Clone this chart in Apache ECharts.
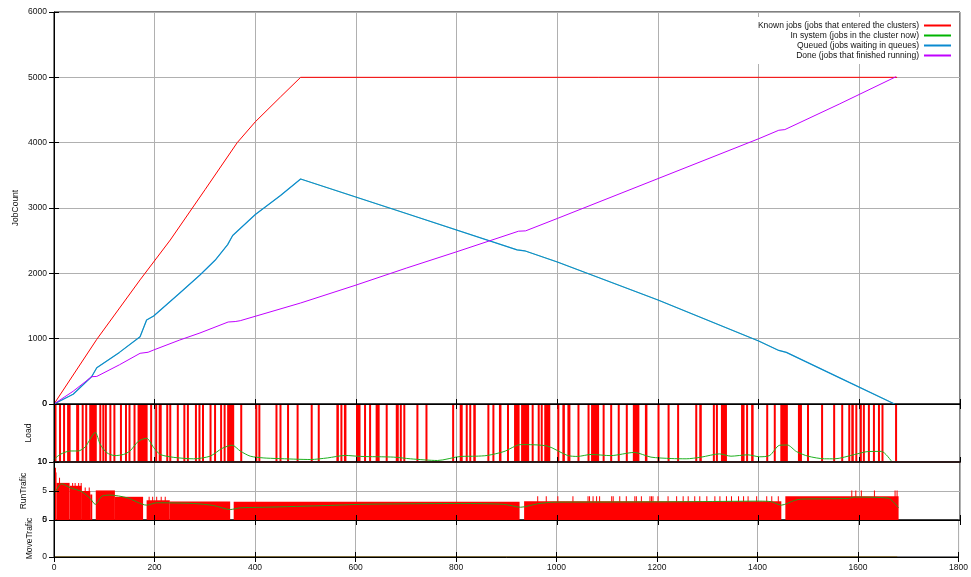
<!DOCTYPE html>
<html><head><meta charset="utf-8">
<script src="https://cdn.jsdelivr.net/npm/echarts@6/dist/echarts.min.js"></script>
<style>html,body{margin:0;padding:0;background:#fff}#c{width:971px;height:577px}</style>
</head><body><div id="c"></div>
<script>
// ---------- data ----------
const seriesNames = ['Known jobs (jobs that entered the clusters)','In system (jobs in the cluster now)','Queued (jobs waiting in queues)','Done (jobs that finished running)'];
const panelNames = ['JobCount','Load','RunTrafic','MoveTrafic'];

const knownJobs = [[0,0],[85,990],[171,1900],[231,2510],[300,3280],[364,4000],[400,4320],[450,4700],[490,5000],[1675,5000]];
const queuedJobs = [[0,0],[38,150],[75,420],[85,556],[130,790],[171,1030],[184,1286],[198,1347],[250,1700],[290,1975],[320,2200],[345,2440],[355,2580],[400,2900],[450,3190],[490,3444],[700,2915],[920,2360],[935,2345],[1000,2174],[1200,1592],[1400,964],[1440,820],[1455,790],[1560,404],[1670,0]];
const inSystemJobs = [[0,0],[38,150],[75,420],[85,556],[130,790],[171,1030],[184,1286],[198,1347],[250,1700],[290,1975],[320,2200],[345,2440],[355,2580],[400,2900],[450,3190],[490,3444],[700,2915],[920,2360],[935,2345],[1000,2174],[1200,1592],[1400,964],[1440,820],[1455,790],[1560,404],[1670,0]];
const doneJobs = [[0,0],[38,195],[75,418],[85,422],[130,600],[171,776],[187,792],[198,827],[250,980],[290,1087],[346,1255],[360,1262],[370,1275],[490,1546],[600,1820],[700,2080],[800,2330],[923,2645],[937,2650],[1000,2840],[1200,3450],[1400,4060],[1440,4190],[1452,4200],[1560,4590],[1673,5010]];

// Load: busy intervals [start, end, load]
const loadBusy = [[0,5,10],[10,11,10],[18,19,10],[26,33,10],[44,50,10],[55,58,10],[62,66,10],[70,85,10],[90,91,10],[96,97,10],[101,102,10],[110,113,10],[118,121,10],[131,132,10],[141,142,10],[148,149,10],[158,159,10],[166,186,10],[191,192,10],[201,204,10],[208,214,10],[223,224,10],[229,230,10],[244,245,10],[257,258,10],[264,267,10],[280,281,10],[287,288,10],[294,295,10],[309,312,10],[318,319,10],[330,331,10],[337,338,10],[344,358,10],[370,371,10],[400,401,10],[406,407,10],
[440,443,10],[448,451,10],[463,466,10],[482,483,10],[510,511,10],[524,527,10],[561,566,10],[569,573,10],[576,581,10],[600,609,10],[616,618,10],[626,628,10],[639,647,10],[659,662,10],[679,685,10],[687,691,10],[694,696,10],[720,724,10],[738,742,10],[791,795,10],[806,812,10],[818,821,10],[825,828,10],[833,838,10],
[861,864,10],[871,874,10],[884,889,10],[900,902,10],[914,925,10],[928,944,10],[949,953,10],[961,964,10],[967,970,10],[974,986,10],[1000,1004,10],[1010,1015,10],[1020,1026,10],[1040,1043,10],[1060,1063,10],[1067,1083,10],[1090,1093,10],[1105,1108,10],[1120,1123,10],[1136,1140,10],[1150,1163,10],[1174,1179,10],[1199,1203,10],[1219,1223,10],[1238,1240,10],
[1274,1278,10],[1282,1287,10],[1309,1312,10],[1315,1319,10],[1325,1337,10],[1365,1372,10],[1375,1378,10],[1385,1390,10],[1415,1418,10],[1430,1433,10],[1443,1458,10],[1478,1486,10],[1496,1499,10],[1524,1528,10],[1548,1551,10],[1564,1567,10],[1578,1581,10],[1584,1589,10],[1592,1595,10],[1601,1604,10],[1607,1611,10],[1617,1620,10],[1627,1630,10],[1637,1640,10],[1644,1647,10],[1671,1675,10]];
const loadAvg = [[0,9.6],[12,8.7],[32,8.1],[48,8.1],[62,7.4],[82,4.9],[92,7.0],[105,8.4],[121,8.9],[138,8.7],[151,8.1],[168,6.4],[184,5.9],[198,7.5],[211,8.7],[238,9.2],[277,9.45],[310,9.0],[334,7.65],[354,7.1],[370,8.1],[390,9.0],[417,9.3],[443,9.4],[510,9.57],[543,9.3],[579,8.87],[609,9.04],[675,9.16],[708,9.45],[762,9.74],[808,9.04],[838,9.0],[861,8.87],[894,8.2],[927,7.0],[980,7.25],[1020,8.87],[1040,9.04],[1067,8.7],[1106,8.9],[1153,8.35],[1186,9.16],[1226,9.4],[1256,9.45],[1286,9.16],[1322,8.6],[1345,9.0],[1378,8.76],[1402,9.1],[1422,8.87],[1441,7.13],[1457,7.07],[1475,8.2],[1498,9.0],[1531,9.45],[1551,9.45],[1591,8.7],[1617,8.2],[1644,8.17],[1665,10]];

// RunTrafic: level blocks [start, end, value] and single spikes [x, value]
const runBlocks = [[0,1,9.0],[1,5,8.2],[5,31,6.4],[31,55,5.9],[55,72,5.0],[72,76,4.4],[83,121,5.1],[121,177,4.0],[184,230,3.4],[230,350,3.2],[357,925,3.15],[934,1445,3.25],[1453,1678,4.1]];
const runSpikes = [[10,7.3],[36,6.4],[41,6.4],[48,6.4],[53,6.4],[61,5.6],[69,5.6],[188,4.0],[195,4.0],[203,4.0],[212,4.0],[220,4.0],[960,4.1],[977,4.1],[1000,4.1],[1030,4.1],[1060,4.1],[1063,4.1],[1070,4.1],[1077,4.1],[1083,4.1],[1107,4.1],[1110,4.1],[1123,4.1],[1136,4.1],[1153,4.1],[1156,4.1],[1166,4.1],[1183,4.1],[1186,4.1],[1189,4.1],[1199,4.1],[1219,4.1],[1236,4.1],[1249,4.1],[1259,4.1],[1272,4.1],[1282,4.1],[1296,4.1],[1312,4.1],[1322,4.1],[1335,4.1],[1345,4.1],[1359,4.1],[1369,4.1],[1378,4.1],[1395,4.1],[1415,4.1],[1425,4.1],[1438,4.1],[1584,5.1],[1592,5.1],[1603,5.1],[1629,5.1],[1670,5.1],[1674,5.1]];
const runAvg = [[0,4.4],[15,6.25],[32,5.57],[55,4.9],[72,3.7],[82,2.7],[95,4.1],[111,4.3],[145,3.84],[184,2.56],[204,2.97],[277,2.85],[317,2.5],[350,1.8],[370,2.1],[420,2.2],[543,2.5],[609,2.7],[708,2.8],[808,2.85],[894,2.7],[927,2.2],[961,2.8],[994,3.08],[1093,3.1],[1256,3.15],[1402,3.25],[1425,3.15],[1445,2.56],[1471,3.37],[1485,3.6],[1578,3.72],[1591,3.95],[1657,3.77],[1678,2.1]];

// MoveTrafic
const moveAvg = [[0,0],[1678,0]];

// axis ranges
const xRange = {min:0, max:1800, interval:200};
const yRanges = [{min:0,max:6000,interval:1000},{min:0,max:10,interval:10,inverse:true},{min:0,max:10,interval:5},{min:0,max:5,interval:5}];

// ---------- layout ----------
const FONT = 'Liberation Sans, Arial, sans-serif';
const panels = [{top:12,height:392,nameGap:34},{top:404,height:58,nameGap:20.5},{top:462,height:58,nameGap:25.5},{top:520,height:37,nameGap:19.5}];
const gridC = '#b0b0b0';
const plain = v => String(v);

const grid=[], xAxis=[], yAxis=[];
panels.forEach((p,i)=>{
  grid.push({left:54,right:11,top:p.top,height:p.height,show:true,borderColor:'#000',borderWidth:1,backgroundColor:'transparent'});
  xAxis.push(Object.assign({type:'value',gridIndex:i,position:'bottom',z:10,
    axisLine:{show:true,onZero:false,lineStyle:{color: i===1?'#2b1a1a':'#000',width: i===1?2:1}},
    axisTick:{show:true,inside:true,length:5,lineStyle:{color:'#000'}},
    axisLabel:{show:i===3,fontSize:8.5,color:'#111',fontFamily:FONT,margin:6,formatter:plain},
    splitLine:{show:false}},xRange));
  xAxis.push(Object.assign({type:'value',gridIndex:i,position:'top',z:0,
    axisLine:{show:false},
    axisTick:{show:true,inside:true,length:5,lineStyle:{color:'#000'}},
    axisLabel:{show:false},
    splitLine:{show:true,lineStyle:{color:gridC,width:1}}},xRange));
  const yr = yRanges[i];
  yAxis.push(Object.assign({type:'value',gridIndex:i,position:'left',z:10,
    name:panelNames[i],nameLocation:'middle',nameGap:p.nameGap,nameMoveOverlap:false,
    nameTextStyle:{fontSize:8.5,color:'#111',fontFamily:FONT},
    axisLine:{show:true,onZero:false,lineStyle:{color:'#000'}},
    axisTick:{show:true,inside:true,length:5,lineStyle:{color:'#000'}},
    axisLabel:{show:true,fontSize:8.5,color:'#111',fontFamily:FONT,margin:7,formatter:plain},
    splitLine:{show:false}},yr));
  yAxis.push(Object.assign({type:'value',gridIndex:i,position:'right',z:0,
    axisLine:{show:false},
    axisTick:{show:true,inside:true,length:5,lineStyle:{color:'#000'}},
    axisLabel:{show:false},
    splitLine:{show:true,lineStyle:{color:gridC,width:1}}},yr));
});

function rangeItem(color){
  return function(params, api){
    const s=api.value(0), e=api.value(1), v=api.value(2);
    const a=api.coord([s,0]), b=api.coord([e,v]);
    const w=Math.max(2,b[0]-a[0]);
    return {type:'rect',shape:{x:a[0],y:Math.min(a[1],b[1]),width:w,height:Math.abs(b[1]-a[1])},style:{fill:color}};
  };
}
function spikeItem(color){
  return function(params, api){
    const a=api.coord([api.value(0),0]), b=api.coord([api.value(0),api.value(1)]);
    return {type:'rect',shape:{x:a[0],y:Math.min(a[1],b[1]),width:1,height:Math.abs(b[1]-a[1])},style:{fill:color}};
  };
}
function lineS(name,data,color,xi,yi,extra){
  return Object.assign({type:'line',name:name,data:data,xAxisIndex:xi,yAxisIndex:yi,symbol:'none',showSymbol:false,
    lineStyle:{color:color,width:1},itemStyle:{color:color},animation:false,z:3},extra||{});
}

const RED='#ff0000', GREEN='#00b400', BLUE='#0a8ad0', PURPLE='#c000ff';
const series = [
  lineS(seriesNames[0],knownJobs,RED,0,0),
  lineS(seriesNames[1],inSystemJobs,GREEN,0,0,{lineStyle:{color:GREEN,width:0.4}}),
  lineS(seriesNames[2],queuedJobs,BLUE,0,0,{lineStyle:{color:BLUE,width:1.2}}),
  lineS(seriesNames[3],doneJobs,PURPLE,0,0),
  {type:'custom',xAxisIndex:2,yAxisIndex:2,data:loadBusy,renderItem:rangeItem(RED),encode:{x:[0,1],y:2},clip:true,z:2,animation:false},
  lineS('loadAvg',loadAvg,'#1fb01f',2,2,{smooth:0.25,z:4}),
  {type:'custom',xAxisIndex:4,yAxisIndex:4,data:runBlocks,renderItem:rangeItem(RED),encode:{x:[0,1],y:2},clip:true,z:2,animation:false},
  {type:'custom',xAxisIndex:4,yAxisIndex:4,data:runSpikes,renderItem:spikeItem(RED),encode:{x:0,y:1},clip:true,z:2,animation:false},
  lineS('runAvg',runAvg,'#2a9a1a',4,4,{smooth:0.25,z:4}),
  lineS('moveAvg',moveAvg,'#7a6428',6,6,{z:4,lineStyle:{color:'#7a6428',width:1.5}})
];

const chart = echarts.init(document.getElementById('c'),null,{renderer:'canvas'});
chart.setOption({
  backgroundColor:'#fff',
  animation:false,
  textStyle:{fontFamily:FONT},
  grid:grid, xAxis:xAxis, yAxis:yAxis,
  legend:{data:seriesNames.map((n,k)=>({name:n,itemStyle:{color:[RED,GREEN,BLUE,PURPLE][k]}})),
    orient:'vertical',align:'right',right:16,top:17,icon:'rect',
    padding:[4,4,4,6],backgroundColor:'#fff',itemWidth:27,itemHeight:2,itemGap:1,
    selectedMode:false,textStyle:{fontSize:8.5,color:'#111',fontFamily:FONT}},
  series:series
});
</script></body></html>
